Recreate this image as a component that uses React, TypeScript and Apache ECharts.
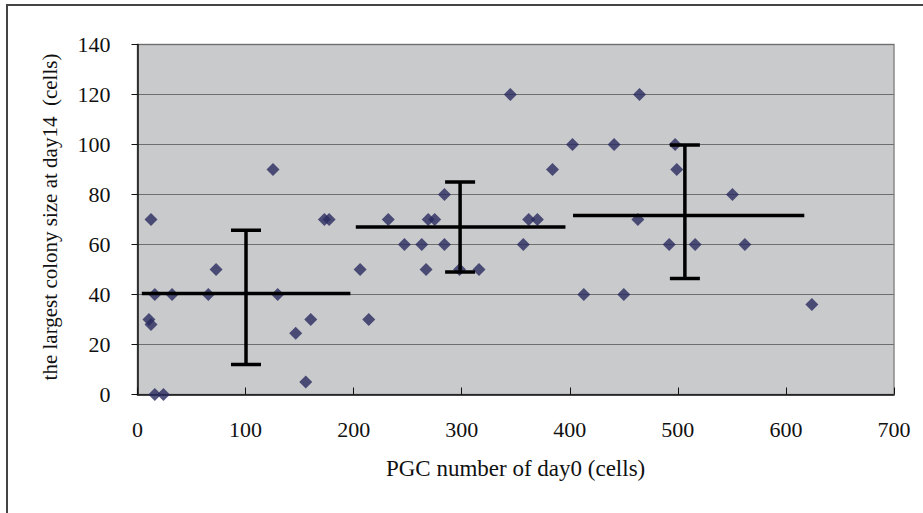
import React, { useEffect, useRef } from "react";
import * as echarts from "echarts";

const pgcDay0 = [12.5, 10.6, 12.5, 16, 16, 24, 32, 65.5, 72.7, 125.4, 129.7, 146.4, 155.7, 160.3, 172.9, 177.3, 206, 214, 232, 247, 263, 267, 269, 275, 284, 284, 298, 316, 345, 357, 362, 370, 384, 402.5, 413, 441, 450, 463, 464.5, 492, 497.5, 499, 516, 550.5, 562, 624];
const colonySize = [70, 30, 28, 40, 0, 0, 40, 40, 50, 90, 40, 24.5, 5, 30, 70, 70, 50, 30, 70, 60, 60, 50, 70, 70, 80, 60, 50, 50, 120, 60, 70, 70, 90, 100, 40, 100, 40, 70, 120, 60, 100, 90, 60, 80, 60, 36];

const groupStart = [4, 202, 403];
const groupEnd = [197, 396, 617];
const groupMean = [40.4, 67, 71.6];
const groupCenter = [100.4, 298.5, 506.5];
const groupLow = [12, 49, 46.4];
const groupHigh = [65.7, 85, 99.8];

const xTitle = "PGC number of day0 (cells)";
const yTitle = "the largest colony size at day14  (cells)";

const FONT = "'Liberation Serif', 'Times New Roman', serif";

export default function App() {
  const ref = useRef<HTMLDivElement>(null);
  useEffect(() => {
    if (!ref.current) return;
    const chart = echarts.init(ref.current, null, { renderer: "svg" });
    const points = pgcDay0.map((x, i) => [x, colonySize[i]]);
    const groups = groupStart.map((s, i) => [s, groupEnd[i], groupMean[i], groupCenter[i], groupLow[i], groupHigh[i]]);
    chart.setOption({
      animation: false,
      backgroundColor: "#ffffff",
      grid: {
        left: 137.5,
        right: 29,
        top: 44.5,
        bottom: 118.5,
        show: true,
        backgroundColor: "#c9cacc",
        borderColor: "#8a8a8a",
        borderWidth: 1.5,
      },
      xAxis: {
        type: "value",
        min: 0,
        max: 700,
        interval: 100,
        axisLine: { show: true, lineStyle: { color: "#111", width: 1.5 } },
        axisTick: { show: true, inside: true, length: 7, lineStyle: { color: "#111", width: 1 } },
        splitLine: { show: false },
        axisLabel: { margin: 24, fontFamily: FONT, fontSize: 22, color: "#111" },
      },
      yAxis: {
        type: "value",
        min: 0,
        max: 140,
        interval: 20,
        axisLine: { show: true, lineStyle: { color: "#111", width: 1.5 } },
        axisTick: { show: true, inside: false, length: 6, lineStyle: { color: "#111", width: 1 } },
        splitLine: { show: true, lineStyle: { color: "#6e6e6e", width: 1.2 } },
        axisLabel: { margin: 27, fontFamily: FONT, fontSize: 22, color: "#111" },
      },
      graphic: [
        {
          type: "rect",
          z: -10,
          shape: { x: 7, y: 5, width: 1000, height: 600 },
          style: { fill: "none", stroke: "#444", lineWidth: 2 },
          silent: true,
        },
        {
          type: "text",
          x: 515.6,
          y: 468,
          style: { text: xTitle, fontFamily: FONT, fontSize: 23, fill: "#111", align: "center", verticalAlign: "middle" },
        },
        {
          type: "text",
          x: 50,
          y: 217,
          rotation: Math.PI / 2,
          style: { text: yTitle, fontFamily: FONT, fontSize: 21, fill: "#111", align: "center", verticalAlign: "middle" },
        },
      ],
      series: [
        {
          type: "scatter",
          data: points,
          symbol: "diamond",
          symbolSize: 13,
          itemStyle: { color: "#292b5f" },
          z: 3,
        },
        {
          type: "custom",
          data: groups,
          z: 4,
          renderItem: (params: any, api: any) => {
            const s = api.coord([api.value(0), api.value(2)]);
            const e = api.coord([api.value(1), api.value(2)]);
            const lo = api.coord([api.value(3), api.value(4)]);
            const hi = api.coord([api.value(3), api.value(5)]);
            const st = { stroke: "#000", lineWidth: 3.5 };
            const cap = 15;
            return {
              type: "group",
              children: [
                { type: "line", shape: { x1: s[0], y1: s[1], x2: e[0], y2: e[1] }, style: st },
                { type: "line", shape: { x1: lo[0], y1: lo[1], x2: hi[0], y2: hi[1] }, style: st },
                { type: "line", shape: { x1: lo[0] - cap, y1: lo[1], x2: lo[0] + cap, y2: lo[1] }, style: st },
                { type: "line", shape: { x1: hi[0] - cap, y1: hi[1], x2: hi[0] + cap, y2: hi[1] }, style: st },
              ],
            };
          },
        },
      ],
    });
    return () => chart.dispose();
  }, []);
  return <div ref={ref} style={{ position: "fixed", left: 0, top: 0, width: 923, height: 513 }} />;
}
